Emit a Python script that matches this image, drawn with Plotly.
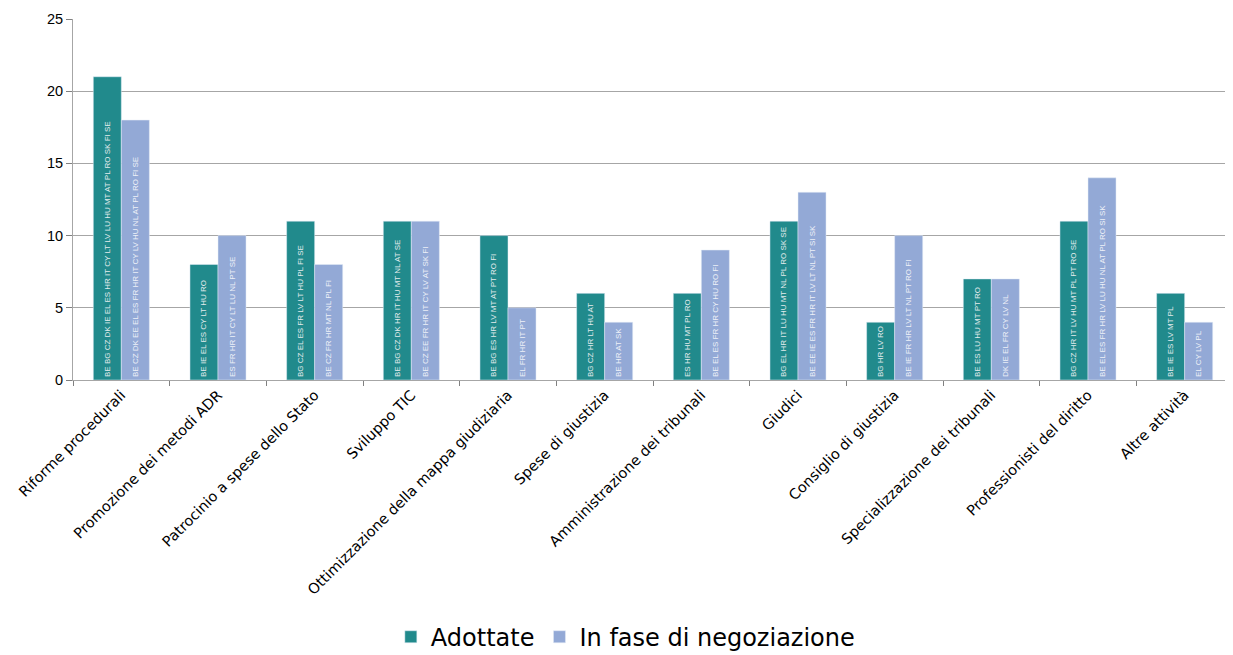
import plotly.graph_objects as go

categories = ["Riforme procedurali", "Promozione dei metodi ADR", "Patrocinio a spese dello Stato",
              "Sviluppo TIC", "Ottimizzazione della mappa giudiziaria", "Spese di giustizia",
              "Amministrazione dei tribunali", "Giudici", "Consiglio di giustizia",
              "Specializzazione dei tribunali", "Professionisti del diritto", "Altre attività"]
adottate = [21, 8, 11, 11, 10, 6, 6, 11, 4, 7, 11, 6]
negoziazione = [18, 10, 8, 11, 5, 4, 9, 13, 10, 7, 14, 4]
adottate_labels = [
    "BE BG CZ DK IE EL ES HR IT CY LT LV LU HU MT AT PL RO SK FI SE",
    "BE IE EL ES CY LT HU RO",
    "BG CZ EL ES FR LV LT HU PL FI SE",
    "BE BG CZ DK HR IT HU MT NL AT SE",
    "BE BG ES HR LV MT AT PT RO FI",
    "BG CZ HR LT HU AT",
    "ES HR HU MT PL RO",
    "BG EL HR IT LU HU MT NL PL RO SK SE",
    "BG HR LV RO",
    "BE ES LU HU MT PT RO",
    "BG CZ HR IT LV HU MT PL PT RO SE",
    "BE IE ES LV MT PL",
]
negoziazione_labels = [
    "BE CZ DK EE EL ES FR HR IT CY LV HU NL AT PL RO FI SE",
    "ES FR HR IT CY LT LU NL PT SE",
    "BE CZ FR HR MT NL PL FI",
    "BE CZ EE FR HR IT CY LV AT SK FI",
    "EL FR HR IT PT",
    "BE HR AT SK",
    "BE EL ES FR HR CY HU RO FI",
    "BE EE IE ES FR HR IT LV LT NL PT SI SK",
    "BE IE FR HR LV LT NL PT RO FI",
    "DK IE EL FR CY LV NL",
    "BE EL ES FR HR LV LU HU NL AT PL RO SI SK",
    "EL CY LV PL",
]
y_ticks = [0, 5, 10, 15, 20, 25]

bar_font = "Liberation Sans, Arial"

fig = go.Figure()
fig.add_trace(go.Bar(
    name="Adottate", x=categories, y=adottate, text=adottate_labels,
    marker=dict(color="#218a8c"),
    textposition="inside", insidetextanchor="start", textangle=-90,
    textfont=dict(size=8, color="#e3ecec", family=bar_font),
))
fig.add_trace(go.Bar(
    name="In fase di negoziazione", x=categories, y=negoziazione, text=negoziazione_labels,
    marker=dict(color="#93a9d6"),
    textposition="inside", insidetextanchor="start", textangle=-90,
    textfont=dict(size=8, color="#eef1f8", family=bar_font),
))

fig.update_layout(
    width=1225, height=647,
    margin=dict(l=65, r=0, t=11, b=275, autoexpand=False),
    paper_bgcolor="white", plot_bgcolor="white",
    barmode="group", bargap=0.42, bargroupgap=0,
    font=dict(family="Liberation Sans, Arial", color="#000000"),
    uniformtext=dict(minsize=5, mode="show"),
    legend=dict(orientation="h", x=0.274, xanchor="left", y=-0.65, yanchor="top",
                font=dict(size=24, family="DejaVu Sans, Verdana"),
                traceorder="normal"),
    xaxis=dict(
        automargin=False,
        tickangle=-45, tickfont=dict(size=14.5, family="DejaVu Sans, Verdana"), showgrid=False,
        showline=True, linecolor="#a6a6a6", linewidth=1,
        ticks="outside", tickson="boundaries", ticklen=5, tickcolor="#808080",
    ),
    yaxis=dict(
        automargin=False,
        range=[0, 25], tickvals=y_ticks, tickfont=dict(size=14.5),
        showgrid=True, gridcolor="#a6a6a6", gridwidth=1,
        showline=True, linecolor="#a6a6a6", linewidth=1,
        ticks="outside", ticklen=6, tickcolor="#808080", zeroline=False,
    ),
)

fig.write_html("out.html")
